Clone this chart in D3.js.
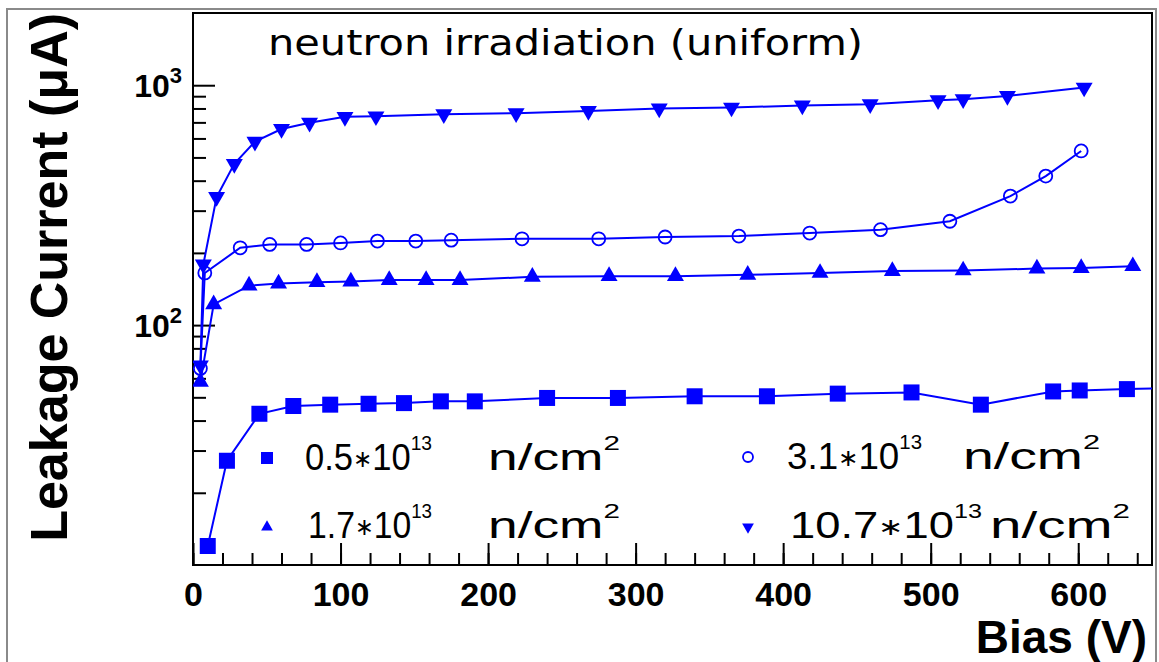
<!DOCTYPE html>
<html>
<head>
<meta charset="utf-8">
<script src="https://cdn.jsdelivr.net/npm/d3@7"></script>
<style>
body { margin: 0; background: #fff; }
</style>
</head>
<body>
<div id="chart"></div>
<script>
// leakage current vs bias, four neutron fluences

// 0.5*10^13 n/cm2 (filled squares)
var biasSq = [10, 23, 45, 68, 93, 119, 143, 168, 191, 240, 288, 340, 389, 437, 487, 534, 583, 601, 633, 665]
var leakSq = [12.0, 27.2, 42.7, 46.0, 46.6, 47.0, 47.3, 48.1, 48.1, 49.7, 49.7, 50.5, 50.5, 51.8, 52.4, 46.6, 52.9, 53.4, 54.1, 54.6]

// 1.7*10^13 n/cm2 (filled triangles)
var biasUp = [5, 14, 38, 58, 84, 107, 133, 158, 181, 230, 282, 327, 376, 425, 474, 522, 572, 602, 637]
var leakUp = [58, 122, 146, 149, 151, 152, 154, 154, 154, 159, 160, 160, 162, 165, 168, 169, 172, 173, 176]

// 3.1*10^13 n/cm2 (open circles)
var biasCi = [5, 8, 32, 52, 77, 100, 125, 151, 175, 223, 275, 320, 370, 418, 466, 513, 554, 578, 602]
var leakCi = [66, 165, 210, 217, 217, 220, 224, 224, 226, 229, 229, 233, 235, 242, 250, 271, 345, 418, 532]

// 10.7*10^13 n/cm2 (filled down triangles)
var biasDn = [5, 7, 16, 28, 42, 60, 79, 103, 124, 170, 219, 268, 316, 365, 413, 459, 505, 522, 552, 604]
var leakDn = [68, 179, 342, 470, 582, 657, 698, 738, 742, 757, 764, 781, 800, 807, 823, 833, 866, 874, 902, 978]

var fluences = ['0.5', '1.7', '3.1', '10.7']
var xTicks = [0, 100, 200, 300, 400, 500, 600]
var xMinorTicks = d3.range(0, 651, 20)
var yTicks = [100, 1000]
var yMinorTicks = [20, 30, 40, 50, 60, 70, 80, 90, 200, 300, 400, 500, 600, 700, 800, 900]

var svgWidth = 1159
var svgHeight = 662
var margin = {top: 13, right: 7, bottom: 97, left: 193}
var chartWidth = svgWidth - margin.left - margin.right
var chartHeight = svgHeight - margin.top - margin.bottom
var blue = '#0000ff'

var svg = d3.select('#chart').append('svg')
    .attr('width', svgWidth).attr('height', svgHeight)
    .style('font-family', 'Liberation Sans, Arial, sans-serif')

// grey canvas border
svg.append('rect')
    .attr('x', 7).attr('y', 9).attr('width', 1149).attr('height', 700)
    .attr('fill', 'none').attr('stroke', '#8a8a8a').attr('stroke-width', 2)

svg.append('defs').append('clipPath').attr('id', 'plotClip')
    .append('rect').attr('width', chartWidth).attr('height', chartHeight)

var chartGroup = svg.append('g').attr('transform', `translate(${margin.left},${margin.top})`)

var xScale = d3.scaleLinear().domain([0, 650]).range([0, chartWidth])
var yScale = d3.scaleLog().domain([10, 2000]).range([chartHeight, 0])

// x axis ticks (inward)
chartGroup.append('g')
    .attr('transform', `translate(0,${chartHeight})`)
    .call(d3.axisBottom(xScale).tickValues(xMinorTicks).tickSize(-12).tickFormat(''))
var xMajor = chartGroup.append('g')
    .attr('transform', `translate(0,${chartHeight})`)
    .call(d3.axisBottom(xScale).tickValues(xTicks).tickSize(-22).tickPadding(17))
xMajor.attr('font-size', 34).attr('font-weight', 'bold').attr('font-family', 'Liberation Sans, Arial, sans-serif')

// y axis ticks (inward)
chartGroup.append('g')
    .call(d3.axisLeft(yScale).tickValues(yMinorTicks).tickSize(-13).tickFormat(''))
chartGroup.append('g')
    .call(d3.axisLeft(yScale).tickValues(yTicks).tickSize(-22).tickFormat(''))

chartGroup.selectAll('.domain').remove()
chartGroup.selectAll('.tick line').attr('stroke', '#000').attr('stroke-width', 2)
xMajor.selectAll('.tick text').attr('fill', '#000')

// y labels as 10^n
var yLabels = chartGroup.selectAll('.ylab')
    .data(yTicks)
    .enter()
    .append('text')
    .attr('class', 'ylab')
    .attr('x', -11)
    .attr('y', d => yScale(d) + 12)
    .attr('text-anchor', 'end')
    .attr('font-weight', 'bold')
    .attr('font-size', 32)
yLabels.append('tspan').text('10')
yLabels.append('tspan').attr('dy', -14).attr('font-size', 22).text(d => Math.round(Math.log10(d)))

// frame
chartGroup.append('rect')
    .attr('width', chartWidth).attr('height', chartHeight)
    .attr('fill', 'none').attr('stroke', '#000').attr('stroke-width', 2)

// series
var series = [
    {bias: biasSq, leak: leakSq, marker: 'square'},
    {bias: biasUp, leak: leakUp, marker: 'up'},
    {bias: biasCi, leak: leakCi, marker: 'circle'},
    {bias: biasDn, leak: leakDn, marker: 'down'}
]

var line = d3.line().x(d => xScale(d[0])).y(d => yScale(d[1]))

var plotArea = chartGroup.append('g').attr('clip-path', 'url(#plotClip)')

function drawMarker(g, type, big) {
    if (type === 'square') {
        var s = big ? 16 : 12
        g.append('rect').attr('x', -s / 2).attr('y', -s / 2).attr('width', s).attr('height', s).attr('fill', blue)
    } else if (type === 'circle') {
        g.append('circle').attr('r', big ? 6.5 : 5).attr('fill', 'none').attr('stroke', blue).attr('stroke-width', 1.8)
    } else {
        g.append('path')
            .attr('d', d3.symbol(d3.symbolTriangle, big ? 125 : 60)())
            .attr('transform', type === 'down' ? 'rotate(180)' : null)
            .attr('fill', blue)
    }
}

series.forEach(s => {
    var pts = d3.zip(s.bias, s.leak)
    plotArea.append('path')
        .datum(pts)
        .attr('d', line)
        .attr('fill', 'none')
        .attr('stroke', blue)
        .attr('stroke-width', 2)
    plotArea.selectAll(null)
        .data(pts)
        .enter()
        .append('g')
        .attr('transform', d => `translate(${xScale(d[0])},${yScale(d[1])})`)
        .each(function() { drawMarker(d3.select(this), s.marker, true) })
})

// legend: marker, "x*10^13" part and "n/cm^2" part placed like the original
var legendPos = [
    {mx: 267, my: 458, ax: 305, alen: 127, bx: 488, blen: 132, ty: 470},
    {mx: 267, my: 527, ax: 308, alen: 124, bx: 488, blen: 132, ty: 538},
    {mx: 748, my: 457, ax: 787, alen: 135, bx: 963, blen: 137, ty: 469},
    {mx: 748, my: 527, ax: 790, alen: 192, bx: 990, blen: 140, ty: 538}
]
series.forEach((s, i) => {
    var p = legendPos[i]
    var mg = svg.append('g').attr('transform', `translate(${p.mx},${p.my})`)
    drawMarker(mg, s.marker, false)
    var a = svg.append('text')
        .attr('x', p.ax).attr('y', p.ty)
        .attr('font-size', 36)
        .attr('textLength', p.alen)
        .attr('lengthAdjust', 'spacingAndGlyphs')
    a.append('tspan').text(fluences[i])
    a.append('tspan').attr('font-size', 24).attr('dy', -3).text('\u2217')
    a.append('tspan').attr('dy', 3).text('10')
    a.append('tspan').attr('dy', -20).attr('font-size', 20).text('13')
    var b = svg.append('text')
        .attr('x', p.bx).attr('y', p.ty)
        .attr('font-size', 36)
        .attr('textLength', p.blen)
        .attr('lengthAdjust', 'spacingAndGlyphs')
    b.append('tspan').text('n/cm')
    b.append('tspan').attr('dy', -20).attr('font-size', 20).text('2')
})

// title
svg.append('text')
    .attr('x', 268).attr('y', 55)
    .attr('font-family', 'DejaVu Sans, sans-serif')
    .attr('font-size', 36)
    .attr('textLength', 595)
    .attr('lengthAdjust', 'spacingAndGlyphs')
    .text('neutron irradiation (uniform)')

// axis titles
svg.append('text')
    .attr('x', 1147).attr('y', 653)
    .attr('text-anchor', 'end')
    .attr('font-weight', 'bold')
    .attr('font-size', 46)
    .text('Bias (V)')

svg.append('text')
    .attr('transform', 'translate(67,13) rotate(-90)')
    .attr('text-anchor', 'end')
    .attr('font-weight', 'bold')
    .attr('font-size', 52)
    .text('Leakage Current (\u03bcA)')
</script>
</body>
</html>
